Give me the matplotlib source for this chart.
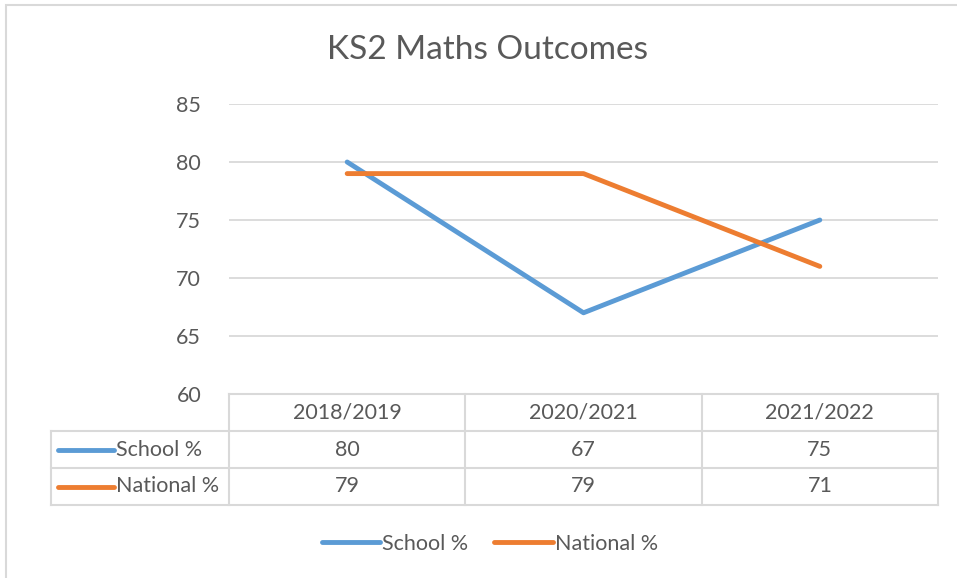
import matplotlib
matplotlib.use("Agg")
import matplotlib.pyplot as plt
from matplotlib.lines import Line2D
from matplotlib.patches import Rectangle

# data
years = ["2018/2019", "2020/2021", "2021/2022"]
school = [80, 67, 75]
national = [79, 79, 71]
series_names = ["School %", "National %"]

BLUE = "#5B9BD5"
ORANGE = "#ED7D31"
TEXT = "#595959"
GRID = "#D9D9D9"
FS = 15.5

plt.rcParams["font.family"] = ["Lato", "DejaVu Sans"]

W, H = 957, 578
fig = plt.figure(figsize=(W / 100, H / 100), dpi=100)

# chart border (right/bottom run off the screenshot)
fig.patches.append(Rectangle((6 / W, -0.02), 1.05, 1 - 5 / H + 0.02,
                             transform=fig.transFigure, fill=False,
                             edgecolor=GRID, lw=1.5))

left, right, top, bottom = 229, 938, 104, 394
ax = fig.add_axes([left / W, 1 - bottom / H, (right - left) / W, (bottom - top) / H])

x = list(range(len(years)))
ax.plot(x, school, color=BLUE, lw=3.5, solid_capstyle="round", zorder=3)
ax.plot(x, national, color=ORANGE, lw=3.5, solid_capstyle="round", zorder=3)

ax.set_xlim(-0.5, len(years) - 0.5)
ax.set_ylim(60, 85)
ax.set_yticks(range(60, 86, 5))
ax.set_xticks([])
ax.grid(axis="y", color=GRID, lw=1.3)
ax.set_axisbelow(True)
for s in ax.spines.values():
    s.set_visible(False)
ax.tick_params(axis="y", length=0, pad=20, labelsize=FS, labelcolor=TEXT)

fig.text(0.509, 1 - 50 / H, "KS2 Maths Outcomes", ha="center", va="center",
         fontsize=24, color=TEXT)

# data table below the plot
tr = ax.get_xaxis_transform()
row_h = 37 / (bottom - top)
col_px = (right - left) / len(years)
lab_w = 178 / col_px
tcell = dict(transform=tr, clip_on=False, color=GRID, lw=1.5)
rows = [school, national]
n_rows = len(rows) + 1
# horizontal lines
ax.plot([-0.5, len(years) - 0.5], [0, 0], **tcell)
for r in range(1, n_rows + 1):
    ax.plot([-0.5 - lab_w, len(years) - 0.5], [-r * row_h] * 2, **tcell)
# vertical lines
for i in range(len(years) + 1):
    ax.plot([i - 0.5] * 2, [0, -n_rows * row_h], **tcell)
ax.plot([-0.5 - lab_w] * 2, [-row_h, -n_rows * row_h], **tcell)

for i, yr in enumerate(years):
    ax.text(i, -0.5 * row_h, yr, transform=tr, ha="center", va="center",
            fontsize=FS, color=TEXT)
colors = [BLUE, ORANGE]
for r, (vals, name, c) in enumerate(zip(rows, series_names, colors), start=1):
    yc = -(r + 0.5) * row_h
    for i, v in enumerate(vals):
        ax.text(i, yc, str(v), transform=tr, ha="center", va="center",
                fontsize=FS, color=TEXT)
    x0 = -0.5 - lab_w + 7 / col_px
    x1 = x0 + 56 / col_px
    ax.plot([x0, x1], [yc, yc], transform=tr, clip_on=False, color=c, lw=3.5,
            solid_capstyle="round")
    ax.text(x1 + 2 / col_px, yc, name, transform=tr, ha="left", va="center",
            fontsize=FS, color=TEXT)

handles = [Line2D([], [], color=c, lw=3.5, solid_capstyle="round") for c in colors]
fig.legend(handles, series_names, loc="center", bbox_to_anchor=(0.512, 1 - 544 / H),
           ncol=2, frameon=False, fontsize=FS, labelcolor=TEXT, handlelength=2.7,
           handletextpad=0.1, columnspacing=1.2)

fig.savefig("out.png", dpi=100)
